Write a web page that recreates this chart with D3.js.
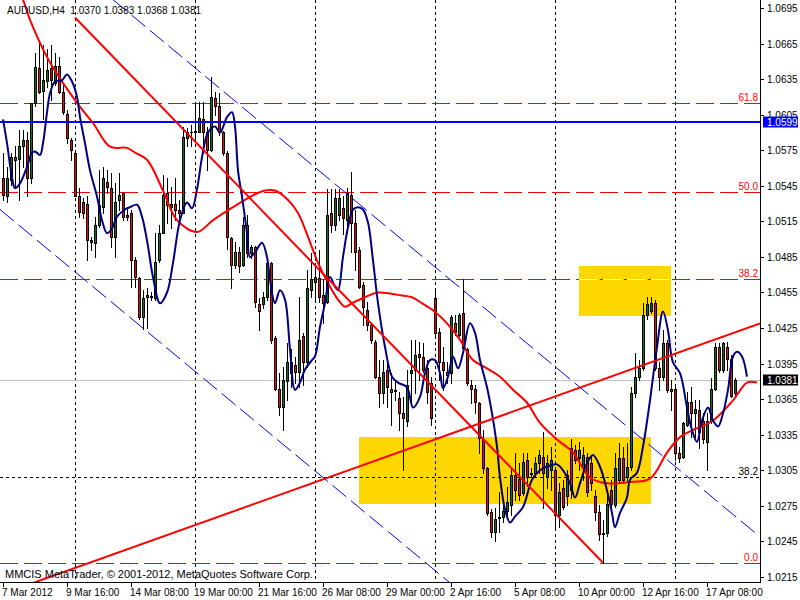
<!DOCTYPE html>
<html><head><meta charset="utf-8">
<script src="https://cdn.jsdelivr.net/npm/d3@7"></script>
<style>
body{margin:0;background:#fff}
svg{display:block}
text{font-family:"Liberation Sans",Arial,sans-serif;font-size:10px}
</style>
</head><body>
<svg id="c" width="800" height="600"></svg>
<script>
// ---------- DATA ----------
const symbolTitle = "AUDUSD,H4";
const lastQuote = [1.0370, 1.0383, 1.0368, 1.0381];
const copyright = "MMCIS MetaTrader, \u00A9 2001-2012, MetaQuotes Software Corp.";

const opens = [1.0552,1.0536,1.0550,1.0569,1.0568,1.0579,1.0584,1.0552,1.0615,1.0644,
1.0625,1.0633,1.0644,1.0632,1.0646,1.0624,1.0606,1.0584,1.0573,1.0536,
1.0531,1.0530,1.0499,1.0497,1.0512,1.0527,1.0548,1.0543,1.0502,1.0533,
1.0539,1.0520,1.0522,1.0482,1.0467,1.0434,1.0451,1.0452,1.0450,1.0482,
1.0505,1.0539,1.0527,1.0530,1.0525,1.0522,1.0585,1.0590,1.0590,1.0590,
1.0601,1.0590,1.0575,1.0619,1.0612,1.0590,1.0573,1.0501,1.0478,1.0489,
1.0478,1.0512,1.0488,1.0493,1.0445,1.0445,1.0451,1.0480,1.0417,1.0374,
1.0358,1.0380,1.0387,1.0394,1.0388,1.0418,1.0396,1.0457,1.0464,1.0467,
1.0453,1.0447,1.0522,1.0512,1.0520,1.0526,1.0516,1.0537,1.0514,1.0491,
1.0461,1.0440,1.0428,1.0413,1.0384,1.0370,1.0390,1.0374,1.0372,1.0366,
1.0353,1.0347,1.0387,1.0390,1.0403,1.0401,1.0391,1.0379,1.0450,1.0422,
1.0396,1.0388,1.0387,1.0429,1.0419,1.0438,1.0407,1.0377,1.0374,1.0362,
1.0331,1.0307,1.0270,1.0253,1.0265,1.0266,1.0271,1.0276,1.0301,1.0298,
1.0286,1.0314,1.0302,1.0303,1.0311,1.0316,1.0299,1.0305,1.0305,1.0267,
1.0290,1.0283,1.0324,1.0322,1.0315,1.0308,1.0316,1.0311,1.0283,1.0270,
1.0251,1.0252,1.0288,1.0276,1.0297,1.0315,1.0299,1.0308,1.0370,1.0384,
1.0391,1.0436,1.0439,1.0446,1.0391,1.0384,1.0412,1.0374,1.0374,1.0320,
1.0316,1.0343,1.0363,1.0353,1.0356,1.0347,1.0329,1.0347,1.0374,1.0409,
1.0390,1.0409,1.0399,1.0370];

const highs = [1.0573,1.0561,1.0573,1.0579,1.0592,1.0592,1.0590,1.0615,1.0657,1.0668,
1.0664,1.0660,1.0664,1.0657,1.0654,1.0630,1.0609,1.0585,1.0574,1.0543,
1.0535,1.0536,1.0502,1.0519,1.0558,1.0561,1.0558,1.0556,1.0547,1.0556,
1.0540,1.0527,1.0525,1.0485,1.0468,1.0457,1.0459,1.0455,1.0505,1.0512,
1.0554,1.0552,1.0544,1.0552,1.0533,1.0595,1.0594,1.0596,1.0615,1.0616,
1.0616,1.0595,1.0637,1.0624,1.0623,1.0591,1.0574,1.0502,1.0498,1.0493,
1.0519,1.0520,1.0495,1.0494,1.0450,1.0455,1.0484,1.0481,1.0418,1.0387,
1.0392,1.0412,1.0407,1.0401,1.0451,1.0421,1.0474,1.0488,1.0480,1.0491,
1.0466,1.0542,1.0542,1.0542,1.0542,1.0536,1.0543,1.0557,1.0525,1.0493,
1.0464,1.0447,1.0429,1.0415,1.0398,1.0398,1.0398,1.0387,1.0381,1.0371,
1.0367,1.0390,1.0415,1.0415,1.0413,1.0412,1.0398,1.0384,1.0459,1.0425,
1.0409,1.0396,1.0436,1.0436,1.0438,1.0466,1.0408,1.0381,1.0377,1.0363,
1.0339,1.0308,1.0272,1.0273,1.0287,1.0280,1.0291,1.0307,1.0320,1.0311,
1.0320,1.0320,1.0307,1.0316,1.0322,1.0337,1.0318,1.0325,1.0308,1.0294,
1.0297,1.0305,1.0331,1.0326,1.0329,1.0325,1.0320,1.0318,1.0288,1.0276,
1.0263,1.0288,1.0297,1.0320,1.0328,1.0325,1.0328,1.0375,1.0404,1.0398,
1.0446,1.0451,1.0451,1.0449,1.0396,1.0423,1.0415,1.0381,1.0375,1.0325,
1.0346,1.0371,1.0375,1.0364,1.0364,1.0353,1.0353,1.0383,1.0412,1.0412,
1.0413,1.0413,1.0402,1.0383];

const lows = [1.0533,1.0531,1.0546,1.0544,1.0533,1.0561,1.0536,1.0547,1.0612,1.0623,
1.0601,1.0628,1.0617,1.0630,1.0623,1.0606,1.0581,1.0567,1.0536,1.0519,
1.0518,1.0482,1.0491,1.0485,1.0510,1.0522,1.0539,1.0493,1.0485,1.0525,
1.0516,1.0516,1.0460,1.0460,1.0433,1.0424,1.0425,1.0449,1.0449,1.0481,
1.0505,1.0514,1.0509,1.0516,1.0512,1.0522,1.0579,1.0579,1.0586,1.0590,
1.0573,1.0558,1.0574,1.0605,1.0588,1.0571,1.0492,1.0459,1.0476,1.0472,
1.0477,1.0485,1.0484,1.0443,1.0423,1.0442,1.0449,1.0412,1.0373,1.0352,
1.0339,1.0364,1.0375,1.0379,1.0375,1.0377,1.0392,1.0451,1.0449,1.0447,
1.0429,1.0446,1.0506,1.0508,1.0516,1.0504,1.0505,1.0489,1.0474,1.0459,
1.0428,1.0423,1.0412,1.0383,1.0358,1.0362,1.0358,1.0343,1.0364,1.0339,
1.0305,1.0342,1.0362,1.0370,1.0381,1.0388,1.0362,1.0343,1.0419,1.0381,
1.0373,1.0379,1.0379,1.0419,1.0418,1.0407,1.0377,1.0362,1.0353,1.0320,
1.0303,1.0267,1.0249,1.0245,1.0253,1.0261,1.0265,1.0267,1.0280,1.0280,
1.0284,1.0292,1.0299,1.0299,1.0303,1.0273,1.0290,1.0288,1.0257,1.0257,
1.0272,1.0276,1.0282,1.0311,1.0305,1.0297,1.0283,1.0288,1.0263,1.0246,
1.0227,1.0250,1.0272,1.0274,1.0294,1.0294,1.0297,1.0305,1.0367,1.0381,
1.0390,1.0433,1.0438,1.0390,1.0373,1.0381,1.0371,1.0356,1.0314,1.0312,
1.0315,1.0342,1.0333,1.0333,1.0324,1.0328,1.0305,1.0345,1.0373,1.0388,
1.0388,1.0390,1.0367,1.0368];

const closes = [1.0537,1.0552,1.0569,1.0567,1.0579,1.0584,1.0552,1.0615,1.0645,1.0624,
1.0634,1.0643,1.0634,1.0646,1.0624,1.0607,1.0585,1.0575,1.0536,1.0523,
1.0522,1.0499,1.0498,1.0512,1.0529,1.0552,1.0544,1.0502,1.0531,1.0537,
1.0519,1.0519,1.0482,1.0468,1.0434,1.0450,1.0453,1.0451,1.0481,1.0505,
1.0537,1.0529,1.0530,1.0525,1.0522,1.0586,1.0590,1.0590,1.0591,1.0602,
1.0590,1.0575,1.0620,1.0612,1.0590,1.0573,1.0502,1.0478,1.0489,1.0477,
1.0512,1.0488,1.0493,1.0447,1.0439,1.0451,1.0480,1.0415,1.0374,1.0358,
1.0381,1.0396,1.0396,1.0388,1.0415,1.0396,1.0459,1.0466,1.0468,1.0451,
1.0446,1.0520,1.0512,1.0535,1.0535,1.0518,1.0539,1.0514,1.0489,1.0460,
1.0443,1.0428,1.0415,1.0384,1.0370,1.0388,1.0375,1.0371,1.0373,1.0353,
1.0349,1.0377,1.0390,1.0402,1.0401,1.0390,1.0371,1.0349,1.0421,1.0396,
1.0390,1.0385,1.0434,1.0422,1.0436,1.0408,1.0379,1.0374,1.0363,1.0332,
1.0307,1.0269,1.0253,1.0264,1.0266,1.0271,1.0278,1.0301,1.0288,1.0284,
1.0312,1.0299,1.0303,1.0311,1.0318,1.0303,1.0311,1.0314,1.0267,1.0287,
1.0274,1.0301,1.0288,1.0314,1.0322,1.0318,1.0287,1.0294,1.0270,1.0251,
1.0252,1.0277,1.0277,1.0307,1.0315,1.0297,1.0308,1.0370,1.0384,1.0391,
1.0436,1.0445,1.0446,1.0391,1.0384,1.0412,1.0373,1.0372,1.0320,1.0315,
1.0345,1.0363,1.0353,1.0357,1.0337,1.0331,1.0347,1.0374,1.0409,1.0390,
1.0412,1.0399,1.0368,1.0381];

const xTickBars = [0,16,32,48,64,80,96,112,128,144,160,176];
const xTickLabels = ["7 Mar 2012","9 Mar 16:00","14 Mar 08:00","19 Mar 00:00","21 Mar 16:00","26 Mar 08:00",
  "29 Mar 00:00","2 Apr 16:00","5 Apr 08:00","10 Apr 00:00","12 Apr 16:00","17 Apr 08:00"];
const yTicks = [1.0695,1.0665,1.0635,1.0605,1.0575,1.0545,1.0515,1.0485,1.0455,1.0425,1.0395,1.0365,1.0335,1.0305,1.0275,1.0245,1.0215];
const separatorBars = [18,48,78,108,138,168];

const maBlueBars = [0,1,2.25,3,4.25,6,7.25,8,9.25,10,
11,11.75,13,14.75,16,17.25,18.5,19.25,20.5,21.75,
23.5,24.75,26,27.25,28.5,30.5,31.75,33.5,34.75,36,
37.5,39.25,41,42.5,44.25,46,47.25,48.5,49.75,51.25,
53,54.25,56,57.25,58,58.75,59.75,61,61.75,63,
64.75,66,66.75,68,69.25,70.5,71.75,73,74.25,75.5,
77.25,78,79.25,80.5,81.75,83,83.75,85,86.25,87.5,
88.75,90,91.25,92.5,93.75,95.5,97.25,98.75,101,102.5,
104.25,105.5,106.75,108,109.25,110,111.25,112.5,113.75,115,
116.75,118,119.25,121,122.25,123.5,124.25,125.5,126.75,128,
130,132.25,134.25,136.75,138.5,140,141.75,143,144.25,146,
147.5,149.25,151,152.25,153,154.25,156,156.75,158.5,160,
161.75,163.5,165,166.25,167.5,169.25,171,172.25,173.5,174.75,
176.25,177.5,178.75,180,181.25,182.5,183.5,184.75,186];
const maBlueVals = [1.0601,1.0581,1.0552,1.0543,1.0547,1.0561,1.0573,1.0574,1.0571,1.0581,
1.0607,1.0623,1.0633,1.0634,1.0639,1.0633,1.0620,1.0603,1.0581,1.0558,
1.0536,1.0516,1.0505,1.0509,1.0519,1.0525,1.0527,1.0529,1.0519,1.0499,
1.0468,1.0446,1.0455,1.0480,1.0516,1.0531,1.0526,1.0542,1.0569,1.0590,
1.0595,1.0590,1.0603,1.0607,1.0595,1.0558,1.0536,1.0505,1.0485,1.0489,
1.0497,1.0485,1.0466,1.0446,1.0457,1.0449,1.0407,1.0373,1.0379,1.0390,
1.0398,1.0401,1.0426,1.0446,1.0468,1.0460,1.0457,1.0485,1.0510,1.0525,
1.0527,1.0525,1.0514,1.0482,1.0446,1.0409,1.0384,1.0379,1.0375,1.0358,
1.0367,1.0387,1.0398,1.0398,1.0387,1.0374,1.0384,1.0401,1.0391,1.0404,
1.0429,1.0421,1.0398,1.0375,1.0353,1.0325,1.0299,1.0272,1.0261,1.0266,
1.0274,1.0297,1.0305,1.0309,1.0310,1.0305,1.0294,1.0282,1.0294,1.0311,
1.0318,1.0308,1.0288,1.0269,1.0257,1.0269,1.0282,1.0297,1.0303,1.0325,
1.0364,1.0409,1.0439,1.0423,1.0396,1.0387,1.0358,1.0339,1.0329,1.0347,
1.0358,1.0347,1.0342,1.0353,1.0373,1.0401,1.0405,1.0401,1.0384];

const maRedBars = [1.75,5,6.75,11.75,18.5,22.5,26.75,31,33,36,
40,43.5,48.5,52.5,57.5,62.5,65.5,68,71.25,73.75,
76.25,78.75,81.25,83.75,85.5,87.25,90.5,93.75,98.75,102.25,
104.25,107.5,111,114.25,117.5,121,124.25,127.5,131,134.25,
138.5,142.5,146.75,151,156,161.75,166,169.25,172.5,177.5,
182.5,186,188.5];
const maRedVals = [1.0727,1.0702,1.0685,1.0649,1.0615,1.0598,1.0578,1.0577,1.0573,1.0567,
1.0541,1.0516,1.0506,1.0516,1.0527,1.0537,1.0541,1.0541,1.0533,1.0522,
1.0502,1.0480,1.0463,1.0449,1.0443,1.0446,1.0451,1.0455,1.0453,1.0451,
1.0447,1.0440,1.0429,1.0415,1.0398,1.0391,1.0384,1.0373,1.0362,1.0345,
1.0331,1.0320,1.0299,1.0294,1.0295,1.0298,1.0320,1.0333,1.0339,1.0347,
1.0364,1.0379,1.0379];

const trendDownBars = [18, 150];
const trendDownPrices = [1.0687, 1.0227];
const trendUpBars = [7.5, 189.25];
const trendUpPrices = [1.0210, 1.0429];
const channelUpperBars = [27.5, 188.5];
const channelUpperPrices = [1.0702, 1.0251];
const channelLowerBars = [-0.75, 111.75];
const channelLowerPrices = [1.0525, 1.0210];

const fibRedPrices = [1.0615, 1.0540, 1.0466, 1.0227];
const fibRedLabels = ["61.8", "50.0", "38.2", "0.0"];
const fibBlackPrices = [1.0299];
const fibBlackLabels = ["38.2"];

const hLinePrice = 1.0599;
const bidPrice = 1.0381;

const rectBarsA = [89, 162];
const rectPricesA = [1.0333, 1.0277];
const rectBarsB = [144, 167];
const rectPricesB = [1.0477, 1.0435];

// ---------- CHART ----------
const W = 760, H = 582;
const svg = d3.select("#c");
svg.append("rect").attr("width", 800).attr("height", 600).attr("fill", "#fff");

const x = d3.scaleLinear().domain([0, 189.25]).range([3, 760]);
const y = d3.scaleLinear().domain([1.0215, 1.0695]).range([577, 8]);

svg.append("defs").append("clipPath").attr("id", "plot")
  .append("rect").attr("x", 0).attr("y", 0).attr("width", W).attr("height", H);

const g = svg.append("g").attr("clip-path", "url(#plot)");

// period separators
const sepX = b => Math.round(x(b)) + 0.5;
g.selectAll(".sep").data(separatorBars).join("line")
  .attr("x1", sepX).attr("x2", sepX).attr("y1", 0).attr("y2", H)
  .attr("stroke", "#000").attr("stroke-dasharray", "3,3");

// rectangles
const rects = [[rectBarsA, rectPricesA], [rectBarsB, rectPricesB]];
rects.forEach(([b, p]) => {
  g.append("rect")
    .attr("x", Math.round(x(b[0]))).attr("y", Math.round(y(p[0])))
    .attr("width", Math.round(x(b[1])) - Math.round(x(b[0])))
    .attr("height", Math.round(y(p[1])) - Math.round(y(p[0])))
    .attr("fill", "#FFD700");
});
separatorBars.filter(b => b > rectBarsA[0] && b < rectBarsA[1]).forEach(b => {
  g.append("line").attr("x1", sepX(b)).attr("x2", sepX(b))
    .attr("y1", Math.round(y(rectPricesA[0]))).attr("y2", Math.round(y(rectPricesA[1])))
    .attr("stroke", "#0000FF").attr("stroke-dasharray", "3,3");
});

// bid line
const yb = Math.round(y(bidPrice)) + 0.5;
g.append("line").attr("x1", 0).attr("x2", W).attr("y1", yb).attr("y2", yb).attr("stroke", "#C0C0C0");

// fib lines
fibRedPrices.forEach((p, k) => {
  const yy = Math.round(y(p)) + 0.5;
  g.append("line").attr("x1", 0).attr("x2", W).attr("y1", yy).attr("y2", yy)
    .attr("stroke", "#FF0000").attr("stroke-dasharray", "18,6");
  g.append("text").attr("x", 758).attr("y", yy - 2.5).attr("text-anchor", "end")
    .attr("fill", "#FF0000").text(fibRedLabels[k]);
  if (p < rectPricesB[0] && p > rectPricesB[1]) {
    g.append("line").attr("x1", Math.round(x(rectBarsB[0]))).attr("x2", Math.round(x(rectBarsB[1])))
      .attr("y1", yy).attr("y2", yy).attr("stroke", "#FFFFFF").attr("stroke-dasharray", "18,6");
  }
});
fibBlackPrices.forEach((p, k) => {
  const yy = Math.round(y(p)) + 0.5;
  g.append("line").attr("x1", 0).attr("x2", W).attr("y1", yy).attr("y2", yy)
    .attr("stroke", "#000").attr("stroke-dasharray", "3,3");
  g.append("text").attr("x", 758).attr("y", yy - 2.5).attr("text-anchor", "end")
    .attr("fill", "#000").text(fibBlackLabels[k]);
});

// candles
const candles = opens.map((o, i) => ({i, o, h: highs[i], l: lows[i], c: closes[i]}));
const cg = g.append("g");
candles.forEach(d => {
  const cx = Math.round(x(d.i));
  cg.append("line").attr("x1", cx + 0.5).attr("x2", cx + 0.5)
    .attr("y1", Math.round(y(d.h))).attr("y2", Math.round(y(d.l)) + 1)
    .attr("stroke", "#000");
  const top = Math.round(y(Math.max(d.o, d.c)));
  const bot = Math.round(y(Math.min(d.o, d.c)));
  if (bot - top < 2) {
    cg.append("rect").attr("x", cx - 1).attr("y", top).attr("width", 3).attr("height", Math.max(1, bot - top + 1))
      .attr("fill", "#000");
  } else {
    cg.append("rect").attr("x", cx - 0.5).attr("y", top + 0.5).attr("width", 2).attr("height", bot - top)
      .attr("fill", d.c > d.o ? "#008000" : "#FF0000").attr("stroke", "#000");
  }
});

// horizontal line 1.0599
const yh = Math.round(y(hLinePrice));
g.append("line").attr("x1", 0).attr("x2", W).attr("y1", yh).attr("y2", yh)
  .attr("stroke", "#0000FF").attr("stroke-width", 2);

// moving averages
const line = d3.line().x(d => x(d[0])).y(d => y(d[1])).curve(d3.curveCatmullRom.alpha(0.5));
g.append("path").datum(d3.zip(maRedBars, maRedVals)).attr("d", line)
  .attr("fill", "none").attr("stroke", "#FF0000").attr("stroke-width", 2);
g.append("path").datum(d3.zip(maBlueBars, maBlueVals)).attr("d", line)
  .attr("fill", "none").attr("stroke", "#000080").attr("stroke-width", 2);

// trend lines & channel
const seg = (bars, prices, color, w, dash) => {
  const l = g.append("line")
    .attr("x1", x(bars[0])).attr("y1", y(prices[0]))
    .attr("x2", x(bars[1])).attr("y2", y(prices[1]))
    .attr("stroke", color).attr("stroke-width", w);
  if (dash) l.attr("stroke-dasharray", dash);
};
seg(channelUpperBars, channelUpperPrices, "#0000FF", 1, "18,6");
seg(channelLowerBars, channelLowerPrices, "#0000FF", 1, "18,6");
seg(trendDownBars, trendDownPrices, "#FF0000", 2);
seg(trendUpBars, trendUpPrices, "#FF0000", 2);

// title & copyright
svg.append("text").attr("x", 7).attr("y", 14).attr("xml:space", "preserve")
  .text(symbolTitle + "  " + lastQuote.map(v => v.toFixed(4)).join(" "));
svg.append("text").attr("x", 5).attr("y", 578).style("font-size", "11px").text(copyright);

// axes
svg.append("line").attr("x1", 760.5).attr("x2", 760.5).attr("y1", 0).attr("y2", 583).attr("stroke", "#000");
svg.append("line").attr("x1", 0).attr("x2", 761).attr("y1", 582.5).attr("y2", 582.5).attr("stroke", "#000");

const ya = svg.append("g");
yTicks.forEach(t => {
  const yy = Math.round(y(t)) + 0.5;
  ya.append("line").attr("x1", 761).attr("x2", 764).attr("y1", yy).attr("y2", yy).attr("stroke", "#000");
  ya.append("text").attr("x", 767).attr("y", yy).attr("dy", "0.35em").text(t.toFixed(4));
});
const priceBox = (p, fill) => {
  const yy = Math.round(y(p)) + 0.5;
  svg.append("rect").attr("x", 763).attr("y", yy - 6).attr("width", 35).attr("height", 11).attr("fill", fill);
  svg.append("text").attr("x", 767).attr("y", yy).attr("dy", "0.35em").attr("fill", "#fff").text(p.toFixed(4));
};
priceBox(hLinePrice, "#0000FF");
priceBox(bidPrice, "#000000");

const xa = svg.append("g");
xTickBars.forEach((b, k) => {
  const xx = Math.round(x(b)) + 0.5;
  xa.append("line").attr("x1", xx).attr("x2", xx).attr("y1", 583).attr("y2", 587).attr("stroke", "#000");
  xa.append("text").attr("x", xx - 1.5).attr("y", 596).text(xTickLabels[k]);
});
</script>
</body></html>
